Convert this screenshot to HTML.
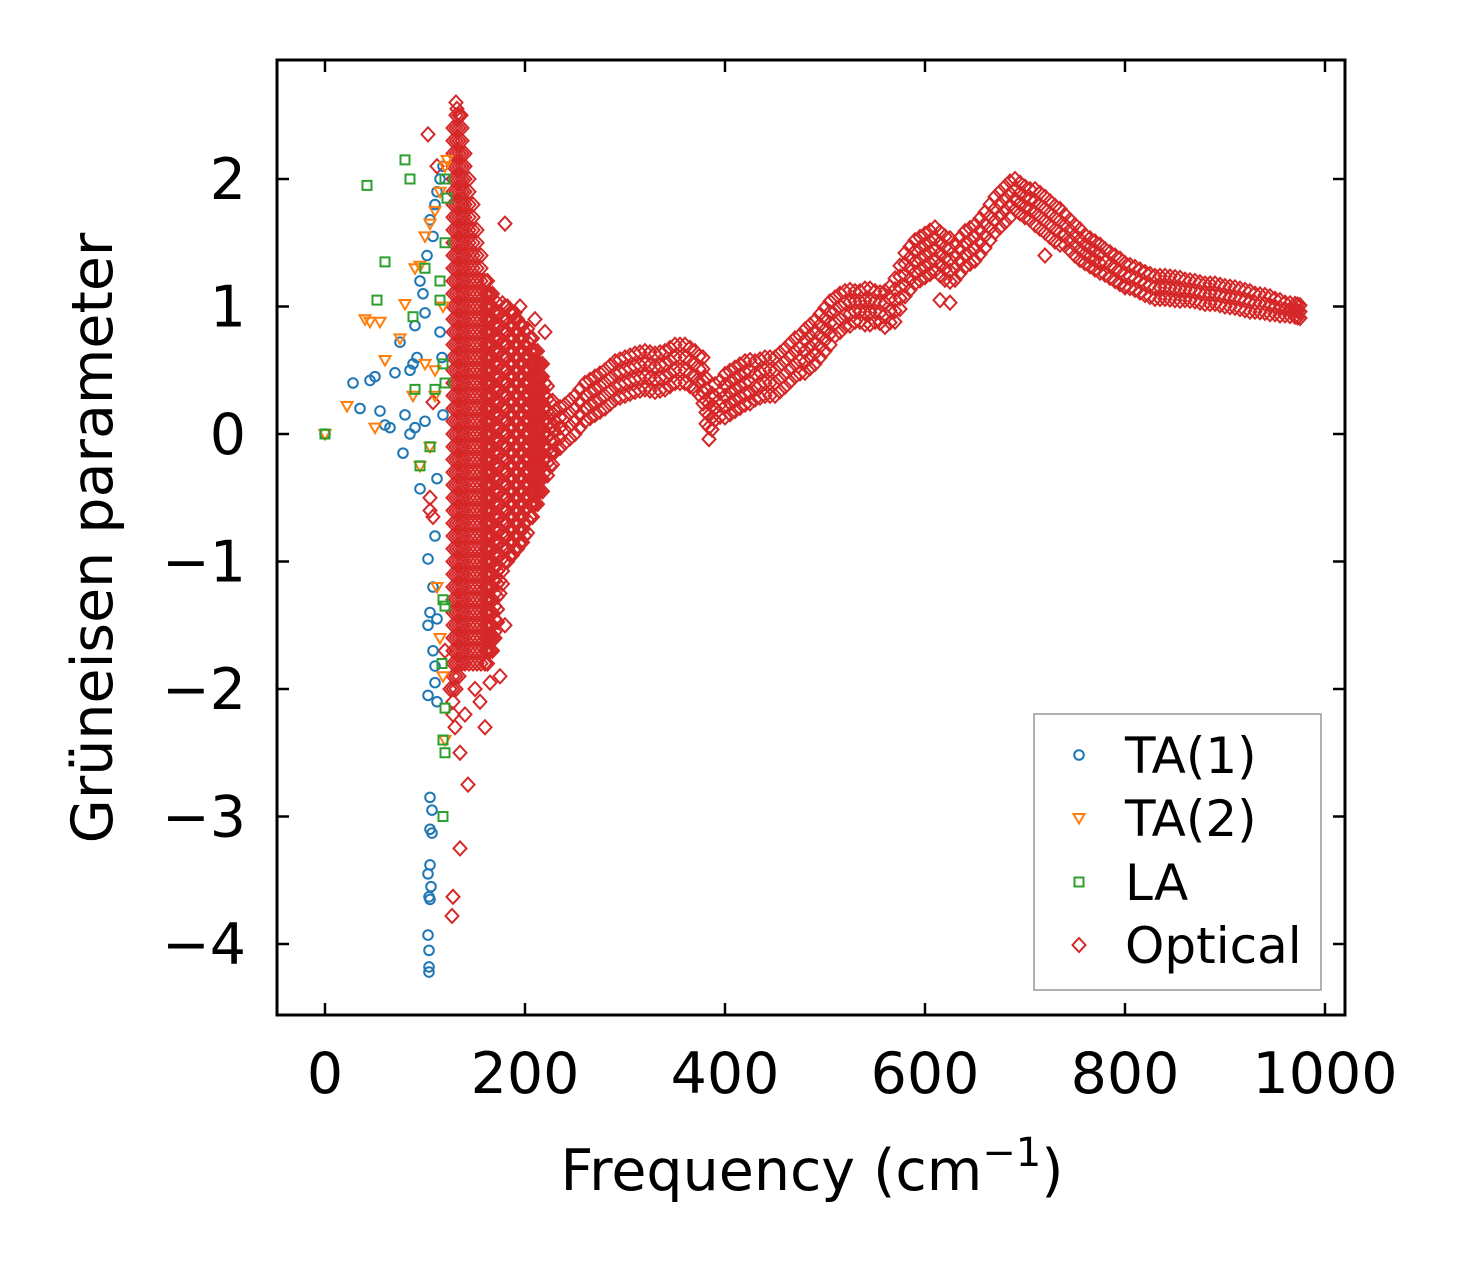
<!DOCTYPE html>
<html><head><meta charset="utf-8">
<style>
html,body{margin:0;padding:0;background:#fff;}
svg text{font-family:"DejaVu Sans","Liberation Sans",sans-serif;fill:#000;}
</style></head>
<body>
<svg id="chart" width="1459" height="1264" xmlns="http://www.w3.org/2000/svg">
<rect x="0" y="0" width="1459" height="1264" fill="#fff"/>
<g id="marks"></g>
<g id="axes"></g>
<text x="812" y="1190" font-size="57" text-anchor="middle">Frequency (cm<tspan dy="-24" font-size="40">−1</tspan><tspan dy="24">)</tspan></text>
<text transform="translate(112,538) rotate(-90)" font-size="57" text-anchor="middle">Grüneisen parameter</text>
<g id="legend">
<rect x="1034" y="714" width="287" height="276" fill="#fff" stroke="#999" stroke-width="1.5"/>
</g>
</svg>
<script>
const xTicks=[0,200,400,600,800,1000];
const yTicks=[-4,-3,-2,-1,0,1,2];
const seriesNames=["TA(1)","TA(2)","LA","Optical"];
const seriesColors=["#1f77b4","#ff7f0e","#2ca02c","#d62728"];
const ta1Freq=[0,28,35,45,50,55,60,65,70,75,78,80,85,88,90,92,95,95,98,100,102,105,108,110,112,115,118,117,115,112,110,103,108,105,103,112,108,110,110,103,112,105,107,105,107,105,103,106,104,105,103,104,104,104,118,85,90,100];
const ta1Gamma=[0,0.4,0.2,0.42,0.45,0.18,0.07,0.05,0.48,0.72,-0.15,0.15,0.5,0.55,0.85,0.6,-0.43,1.2,1.1,0.95,1.4,1.68,1.55,1.8,1.9,2.0,2.1,0.6,0.8,-0.35,-0.8,-0.98,-1.2,-1.4,-1.5,-1.45,-1.7,-1.82,-1.95,-2.05,-2.1,-2.85,-2.95,-3.1,-3.13,-3.38,-3.45,-3.55,-3.63,-3.65,-3.93,-4.05,-4.18,-4.22,0.15,0.0,0.05,0.1];
const ta2Freq=[0,22,40,45,55,60,75,80,90,95,100,105,110,115,120,122,118,110,100,88,105,112,115,118,120,95,110,50];
const ta2Gamma=[0,0.22,0.9,0.88,0.88,0.58,0.75,1.02,1.3,1.32,1.55,1.65,1.75,1.9,2.1,2.15,1.0,0.5,0.55,0.3,-0.1,-1.2,-1.6,-1.9,-2.4,-0.25,0.3,0.05];
const laFreq=[0,42,52,60,80,85,90,88,95,100,105,110,115,118,120,122,120,118,120,117,120,118,120,118,115,120];
const laGamma=[0,1.95,1.05,1.35,2.15,2.0,0.35,0.92,-0.25,1.3,-0.1,0.35,1.05,0.55,1.5,1.85,0.4,-1.3,-1.35,-1.8,-2.15,-2.4,-2.5,-3.0,1.2,2.0];
const optBandFreq=[128,131,134,137,140,144,148,152,156,160,165,170,175,180,185,190,195,200,205,210,215,220,225,230,240,250,260,270,280,290,300,310,320,330,340,350,360,370,378,384,390,400,410,420,430,440,450,460,470,480,490,500,510,520,530,540,550,560,570,580,590,600,610,620,630,640,650,660,670,680,690,700,710,720,730,740,750,760,770,780,790,800,810,820,830,840,850,860,870,880,890,900,910,920,930,940,950,960,970,975];
const optBandCenter=[0.1,0.3,0.3,0.3,0.2,0.1,0.0,-0.1,-0.2,-0.3,-0.3,-0.3,-0.15,0.0,0.0,0.0,0.0,0.0,0.05,0.05,0.05,0.05,0.0,0.02,0.08,0.15,0.25,0.3,0.35,0.42,0.45,0.48,0.5,0.48,0.5,0.55,0.55,0.5,0.42,0.1,0.25,0.3,0.35,0.4,0.42,0.45,0.45,0.52,0.6,0.65,0.72,0.82,0.92,0.98,1.0,1.0,1.0,0.98,1.05,1.25,1.35,1.4,1.45,1.38,1.35,1.45,1.5,1.6,1.72,1.8,1.88,1.82,1.78,1.72,1.65,1.6,1.52,1.45,1.4,1.35,1.3,1.25,1.22,1.18,1.15,1.15,1.14,1.13,1.12,1.1,1.1,1.08,1.07,1.05,1.03,1.02,1.0,0.98,0.97,0.96];
const optBandSpread=[2.3,2.3,2.2,2.1,2.0,1.9,1.8,1.7,1.6,1.5,1.4,1.25,1.1,1.0,0.95,0.9,0.85,0.8,0.7,0.6,0.5,0.35,0.25,0.16,0.15,0.15,0.15,0.15,0.15,0.15,0.15,0.15,0.15,0.15,0.15,0.15,0.15,0.15,0.18,0.14,0.14,0.17,0.17,0.17,0.15,0.15,0.15,0.15,0.15,0.17,0.17,0.17,0.15,0.14,0.12,0.14,0.12,0.14,0.17,0.17,0.17,0.17,0.17,0.17,0.14,0.14,0.14,0.14,0.14,0.14,0.12,0.12,0.14,0.14,0.14,0.12,0.12,0.11,0.11,0.1,0.1,0.09,0.09,0.09,0.09,0.09,0.09,0.08,0.08,0.08,0.08,0.08,0.08,0.08,0.07,0.07,0.06,0.05,0.05,0.05];
const optOutFreq=[103,112,108,105,108,105,120,125,130,135,143,135,128,127,160,180,175,180,195,190,210,220,615,625,720,800,132,136,150,170,140,155,165];
const optOutGamma=[2.35,2.1,0.25,-0.5,-0.65,-0.6,-1.7,-2.0,-2.3,-2.5,-2.75,-3.25,-3.63,-3.78,-2.3,-1.5,-1.9,1.65,1.0,0.95,0.9,0.8,1.05,1.03,1.4,1.15,2.55,2.5,-2.0,-1.6,-2.2,-2.1,-1.95];

const NS="http://www.w3.org/2000/svg";
const L=277,R=1345,T=60,B=1015;
function xs(f){return 325+f*1.0;}
function ys(g){return 434-g*127.5;}
const marks=document.getElementById('marks');
const axes=document.getElementById('axes');
function mk(tag,attrs,parent){const e=document.createElementNS(NS,tag);for(const k in attrs)e.setAttribute(k,attrs[k]);parent.appendChild(e);return e;}
function marker(kind,cx,cy,color,parent){
  let e;
  if(kind===0){e=mk('circle',{cx:cx,cy:cy,r:4.8,fill:'none',stroke:color,'stroke-width':2},parent);}
  else if(kind===1){e=mk('polygon',{points:`${cx-5.5},${cy-4} ${cx+5.5},${cy-4} ${cx},${cy+5.5}`,fill:'none',stroke:color,'stroke-width':2},parent);}
  else if(kind===2){e=mk('rect',{x:cx-4.5,y:cy-4.5,width:9,height:9,fill:'none',stroke:color,'stroke-width':2},parent);}
  else {e=mk('polygon',{points:`${cx},${cy-7} ${cx+6.5},${cy} ${cx},${cy+7} ${cx-6.5},${cy}`,fill:'none',stroke:color,'stroke-width':2},parent);}
  return e;
}
const clip=mk('clipPath',{id:'pc'},marks);mk('rect',{x:L,y:T,width:R-L,height:B-T},clip);
const gOpt=mk('g',{'clip-path':'url(#pc)'},marks);


for(let i=0;i<optBandFreq.length;i++){
  const c=optBandCenter[i],s=optBandSpread[i];
  const n=Math.max(2,Math.ceil(s/0.05));
  for(let k=0;k<=n;k++){
    const g=c+s*(2*k/n-1);
    const m=marker(3,xs(optBandFreq[i]),ys(g),seriesColors[3],gOpt);
    
    
  }
  if(i<optBandFreq.length-1 && optBandFreq[i+1]-optBandFreq[i]>4){
    const f2=(optBandFreq[i]+optBandFreq[i+1])/2,c2=(c+optBandCenter[i+1])/2;
    for(let k=0;k<=n;k++){
      const g=c2+s*(2*k/n-1);
      const m=marker(3,xs(f2),ys(g),seriesColors[3],gOpt);
      
      
    }
  }
}
for(let i=0;i<optOutFreq.length;i++){
  const m=marker(3,xs(optOutFreq[i]),ys(optOutGamma[i]),seriesColors[3],gOpt);
  
  
}
const acc=[[ta1Freq,ta1Gamma,0,'ta1-point'],[ta2Freq,ta2Gamma,1,'ta2-point'],[laFreq,laGamma,2,'la-point']];
for(const [F,G,k,nm] of acc){
  const g=mk('g',{},marks);
  
  
  for(let i=0;i<F.length;i++){
    const m=marker(k,xs(F[i]),ys(G[i]),seriesColors[k],g);
    
    
  }
}
const frame=mk('rect',{x:L,y:T,width:R-L,height:B-T,fill:'none',stroke:'#000','stroke-width':3},axes);


for(const t of xTicks){
  const x=xs(t);
  mk('line',{x1:x,y1:B,x2:x,y2:B-12,stroke:'#000','stroke-width':2.5},axes);
  mk('line',{x1:x,y1:T,x2:x,y2:T+12,stroke:'#000','stroke-width':2.5},axes);
  const tx=mk('text',{x:x,y:1093,'font-size':57,'text-anchor':'middle'},axes);
  tx.textContent=String(t);
  
  
}
for(const t of yTicks){
  const y=ys(t);
  mk('line',{x1:L,y1:y,x2:L+12,y2:y,stroke:'#000','stroke-width':2.5},axes);
  mk('line',{x1:R,y1:y,x2:R-12,y2:y,stroke:'#000','stroke-width':2.5},axes);
  const tx=mk('text',{x:246,y:y+20,'font-size':57,'text-anchor':'end'},axes);
  tx.textContent=t<0?'−'+Math.abs(t):String(t);
  
  
}
const leg=document.getElementById('legend');
const ly=[755,818,882,945];
for(let i=0;i<4;i++){
  const m=marker(i,1079,ly[i],seriesColors[i],leg);
  
  
  const tx=mk('text',{x:1125,y:ly[i]+18,'font-size':50},leg);
  tx.textContent=seriesNames[i];
  
  
}
</script>
</body></html>
